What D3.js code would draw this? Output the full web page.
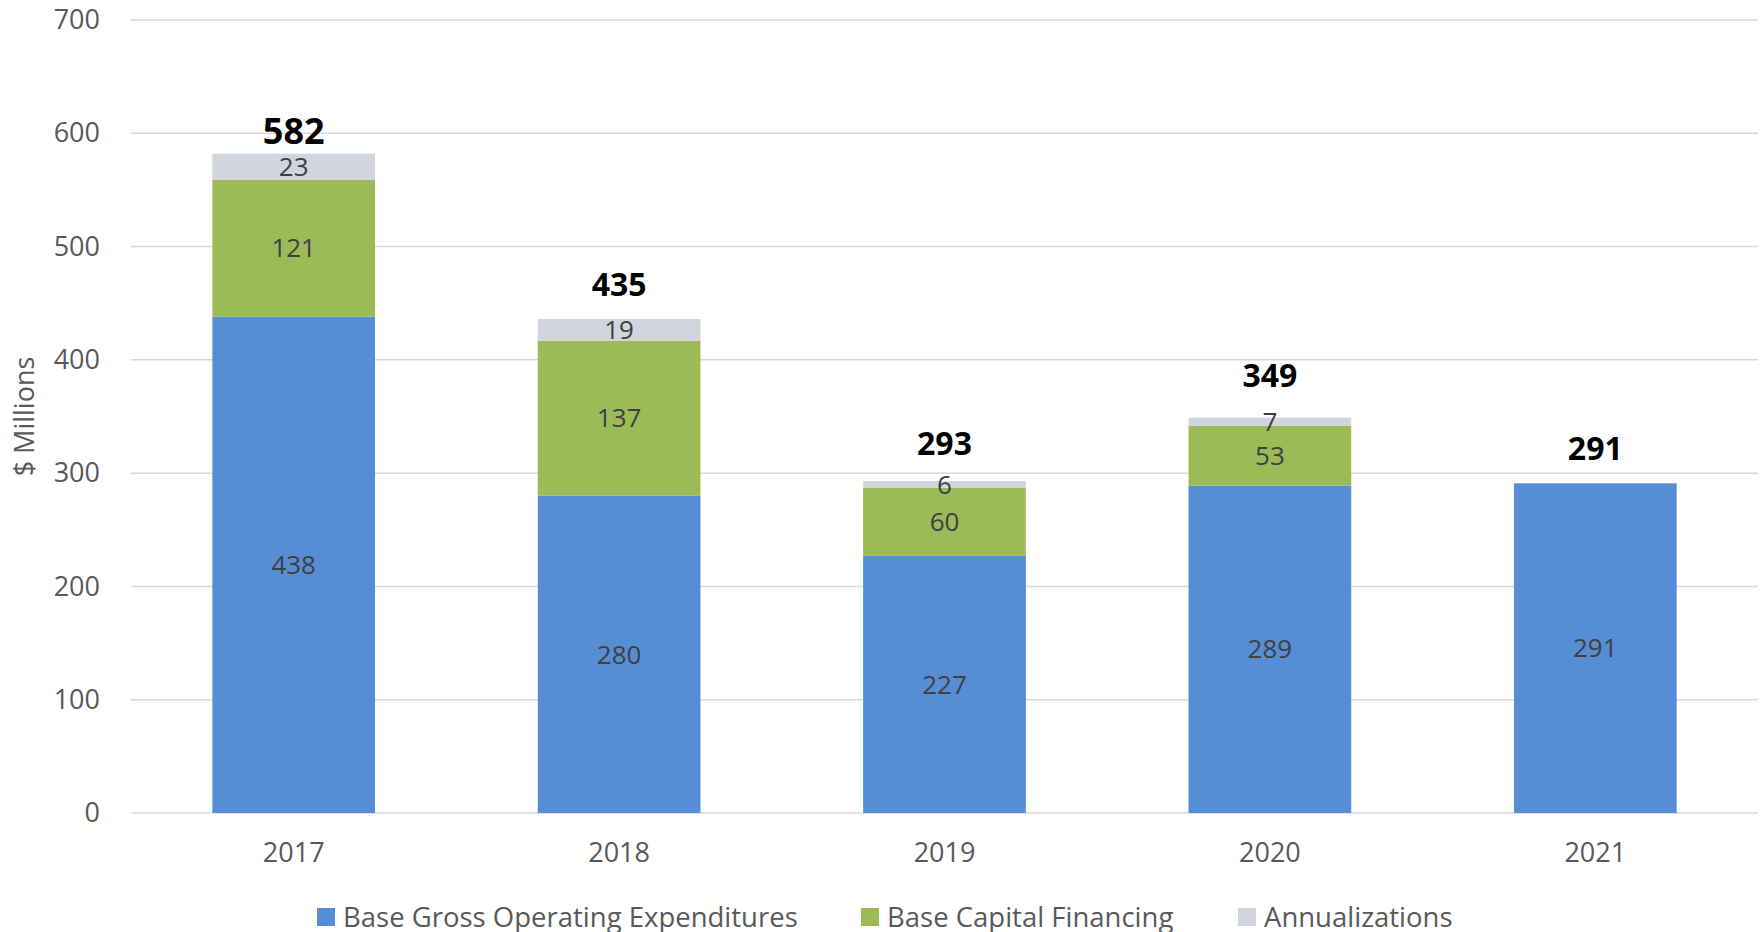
<!DOCTYPE html>
<html>
<head>
<meta charset="utf-8">
<script src="https://cdn.jsdelivr.net/npm/d3@7"></script>
<style>
  body { margin: 0; background: #fff; }
  svg { font-family: "Open Sans", sans-serif; }
</style>
</head>
<body>
<svg width="1763" height="932"></svg>
<script>
const years = ["2017", "2018", "2019", "2020", "2021"];
const operating = [438, 280, 227, 289, 291];
const capital = [121, 137, 60, 53, 0];
const annualizations = [23, 19, 6, 7, 0];
const totals = [582, 435, 293, 349, 291];
const yTicks = [0, 100, 200, 300, 400, 500, 600, 700];

const seriesNames = ["Base Gross Operating Expenditures", "Base Capital Financing", "Annualizations"];
const colors = ["#558ED5", "#9BBB59", "#D1D5DD"];

// total labels were hand-placed in the original, so keep their nudges here
const totalGap = [10, 23, 26, 31, 23];
const totalSize = [36, 32, 32, 32, 32];

const svg = d3.select("svg");
const margin = { left: 131, right: 5, top: 20, bottom: 119 };
const W = 1763, H = 932;

const rows = years.map((y, i) => ({
  year: y,
  s0: operating[i],
  s1: capital[i],
  s2: annualizations[i],
  total: totals[i],
  i: i
}));

const x = d3.scaleBand()
  .domain(years)
  .range([margin.left, W - margin.right])
  .paddingInner(0.5)
  .paddingOuter(0.25);

const y = d3.scaleLinear()
  .domain([0, 700])
  .range([H - margin.bottom, margin.top]);

// gridlines
svg.append("g")
  .selectAll("line")
  .data(yTicks)
  .join("line")
  .attr("x1", margin.left)
  .attr("x2", W - margin.right)
  .attr("y1", d => y(d))
  .attr("y2", d => y(d))
  .attr("stroke", "#D9D9D9")
  .attr("stroke-width", 1.5);

// y axis labels
const yAxis = svg.append("g")
  .attr("transform", `translate(${margin.left - 31},0)`)
  .call(d3.axisLeft(y).tickValues(yTicks).tickSize(0).tickPadding(0));
yAxis.select(".domain").remove();
yAxis.selectAll("text")
  .attr("font-size", 27)
  .attr("font-family", "Open Sans, sans-serif")
  .attr("fill", "#595959");

// x axis labels
const xAxis = svg.append("g")
  .attr("transform", `translate(0,${y(0) + 22})`)
  .call(d3.axisBottom(x).tickSize(0).tickPadding(8));
xAxis.select(".domain").remove();
xAxis.selectAll("text")
  .attr("font-size", 27)
  .attr("font-family", "Open Sans, sans-serif")
  .attr("fill", "#595959");

// stacked bars
const stack = d3.stack().keys(["s0", "s1", "s2"]);
const layers = stack(rows);

const layer = svg.append("g")
  .selectAll("g")
  .data(layers)
  .join("g")
  .attr("fill", (d, i) => colors[i]);

layer.selectAll("rect")
  .data(d => d)
  .join("rect")
  .attr("x", d => x(d.data.year))
  .attr("width", x.bandwidth())
  .attr("y", d => y(d[1]))
  .attr("height", d => y(d[0]) - y(d[1]));

// segment labels
layer.selectAll("text")
  .data(d => d.filter(p => p[1] - p[0] > 0))
  .join("text")
  .attr("x", d => x(d.data.year) + x.bandwidth() / 2)
  .attr("y", d => y((d[0] + d[1]) / 2))
  .attr("dy", "0.35em")
  .attr("text-anchor", "middle")
  .attr("font-size", 26)
  .attr("fill", "#404040")
  .text(d => d[1] - d[0]);

// totals
svg.append("g")
  .selectAll("text")
  .data(rows)
  .join("text")
  .attr("x", d => x(d.year) + x.bandwidth() / 2)
  .attr("y", d => y(d.s0 + d.s1 + d.s2) - totalGap[d.i])
  .attr("text-anchor", "middle")
  .attr("font-size", d => totalSize[d.i])
  .attr("font-weight", "bold")
  .attr("fill", "#000")
  .text(d => d.total);

// y axis title
svg.append("text")
  .attr("transform", `translate(34,${(y(0) + y(700)) / 2}) rotate(-90)`)
  .attr("text-anchor", "middle")
  .attr("font-size", 27)
  .attr("fill", "#595959")
  .text("$ Millions");

// legend
const legendX = [317, 861, 1238];
const legend = svg.append("g")
  .selectAll("g")
  .data(seriesNames)
  .join("g")
  .attr("transform", (d, i) => `translate(${legendX[i]},917)`);

legend.append("rect")
  .attr("x", 0)
  .attr("y", -9)
  .attr("width", 18)
  .attr("height", 18)
  .attr("fill", (d, i) => colors[i]);

legend.append("text")
  .attr("x", 26)
  .attr("dy", "0.35em")
  .attr("font-size", 27.5)
  .attr("fill", "#595959")
  .text(d => d);
</script>
</body>
</html>
